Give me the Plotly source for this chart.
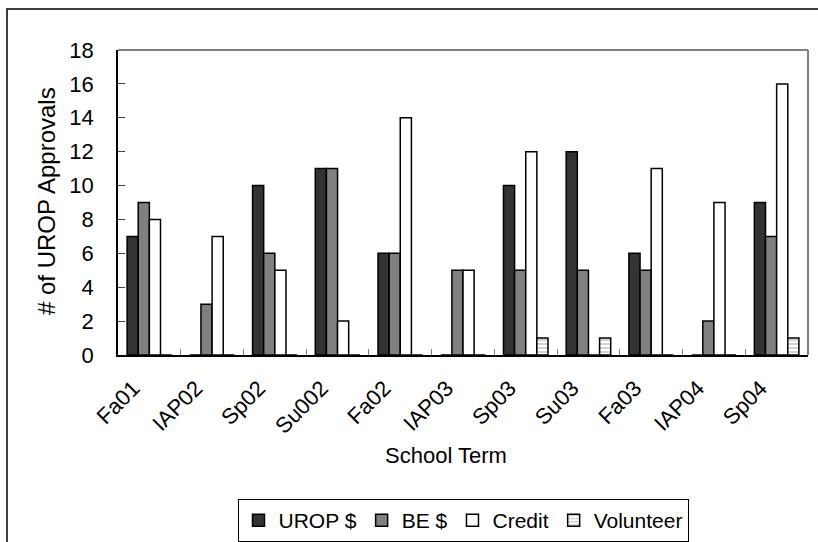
import plotly.graph_objects as go

terms = ["Fa01", "IAP02", "Sp02", "Su002", "Fa02", "IAP03", "Sp03", "Su03", "Fa03", "IAP04", "Sp04"]
urop_pay = [7, 0, 10, 11, 6, 0, 10, 12, 6, 0, 9]
be_pay = [9, 3, 6, 11, 6, 5, 5, 5, 5, 2, 7]
credit = [8, 7, 5, 2, 14, 5, 12, 0, 11, 9, 16]
volunteer = [0, 0, 0, 0, 0, 0, 1, 1, 0, 0, 1]

FONT = "Arial, Liberation Sans, sans-serif"
W, H = 818, 542
L, R, T, B = 118, 10, 50, 187
PW, PH = W - L - R, H - T - B


def px_x(px):
    return (px - L) / PW


def px_y(py):
    return (H - B - py) / PH


line = dict(color="black", width=1.5)
fig = go.Figure()
fig.add_trace(go.Bar(name="UROP $", x=terms, y=urop_pay,
                     marker=dict(color="#333333", line=line)))
fig.add_trace(go.Bar(name="BE $", x=terms, y=be_pay,
                     marker=dict(color="#808080", line=line)))
fig.add_trace(go.Bar(name="Credit", x=terms, y=credit,
                     marker=dict(color="white", line=line)))
fig.add_trace(go.Bar(name="Volunteer", x=terms, y=volunteer,
                     marker=dict(color="white", line=line,
                                 pattern=dict(shape="-", fgcolor="#808080", bgcolor="white",
                                              size=4, solidity=0.35))))

fig.update_layout(
    width=W, height=H,
    margin=dict(l=L, r=R, t=T, b=B, pad=0, autoexpand=False),
    paper_bgcolor="white", plot_bgcolor="white",
    barmode="group", bargap=0.29, bargroupgap=0,
    font=dict(family=FONT, size=22, color="black"),
    showlegend=True,
    legend=dict(orientation="h", x=0.5, xanchor="center", y=px_y(499), yanchor="top",
                bordercolor="black", borderwidth=1, bgcolor="white",
                font=dict(size=21), itemwidth=30, traceorder="normal"),
    xaxis=dict(showline=True, linecolor="black", linewidth=1.5,
               ticks="inside", tickson="boundaries", ticklen=6, tickcolor="#808080",
               tickangle=-45, showgrid=False, tickfont=dict(size=22),
               ticklabelstandoff=10, ticklabelshift=-16),
    yaxis=dict(range=[0, 18], dtick=2, showline=True, linecolor="black", linewidth=1.5,
               ticks="inside", ticklen=7, tickcolor="#404040", showgrid=False,
               zeroline=False, tickfont=dict(size=22), ticklabelstandoff=18),
    annotations=[
        dict(text="# of UROP Approvals", xref="paper", yref="paper",
             x=px_x(47), y=px_y(201), textangle=-90, showarrow=False,
             font=dict(size=24), xanchor="center", yanchor="middle"),
        dict(text="School Term", xref="paper", yref="paper",
             x=px_x(446), y=px_y(455), showarrow=False,
             font=dict(size=22), xanchor="center", yanchor="middle"),
    ],
    shapes=[
        dict(type="line", xref="paper", yref="paper", x0=0, x1=1, y0=1, y1=1,
             line=dict(color="#808080", width=2), layer="above"),
        dict(type="line", xref="paper", yref="paper", x0=1, x1=1, y0=0, y1=1,
             line=dict(color="#808080", width=2), layer="above"),
        dict(type="rect", xref="paper", yref="paper",
             x0=px_x(7), x1=px_x(830), y0=px_y(9), y1=px_y(560),
             line=dict(color="black", width=1.5), fillcolor="rgba(0,0,0,0)", layer="below"),
    ],
)

fig.write_html("out.html", config={"displayModeBar": False},
               post_script="document.body.style.margin='0';")
